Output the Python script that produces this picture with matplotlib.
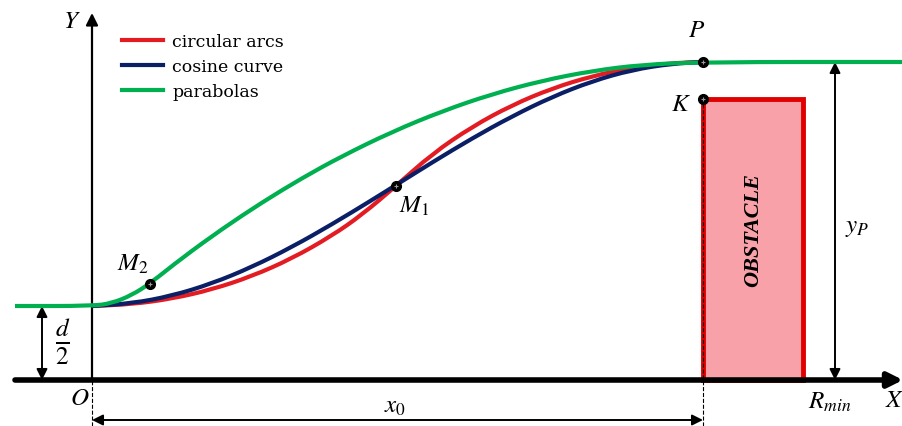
import numpy as np
import matplotlib.pyplot as plt
from matplotlib.path import Path
from matplotlib.patches import PathPatch
from matplotlib.lines import Line2D

plt.rcParams['font.family'] = ['Liberation Serif', 'DejaVu Serif']
plt.rcParams['mathtext.fontset'] = 'stix'

# diagram units (origin at O)
half_d = 74
x0 = 611
y_p = 318
k_height = 281
obstacle_w = 100
r_min = 743
m1 = (304, 194)
m2 = (58, 96)

arcs_x = [0, 40, 80, 120, 160, 200, 240, 270, 304, 340, 380, 420, 460, 500, 540, 580, 611]
arcs_y = [74, 75.8, 81.3, 90.5, 103.8, 121.5, 144.3, 165.3, 194, 226, 253.3, 274.9,
          291.6, 303.9, 312.3, 316.9, 318]

cosine_x = [0, 40, 80, 120, 160, 200, 240, 280, 304, 340, 380, 420, 460, 500, 540, 580, 611]
cosine_y = [74, 76.6, 84.2, 96.5, 113, 133, 155.7, 180, 195, 217.5, 241.6, 263.7,
            283.1, 298.8, 310.1, 316.4, 318]

parab_x = [-77, 0, 20, 40, 58, 90, 130, 170, 210, 250, 300, 350, 400, 450, 500, 550, 611, 811]
parab_y = [74, 74, 76.8, 85, 96.5, 122, 151, 177.6, 201.9, 223.9, 248.2, 268.8,
           285.9, 299.3, 309.1, 315.3, 318, 318]

RED = '#E31B23'
BLUE = '#0B1F66'
GREEN = '#00B050'


def smooth_path(xs, ys):
    pts = np.column_stack([xs, ys]).astype(float)
    verts = [pts[0], (pts[0] + pts[1]) / 2]
    codes = [Path.MOVETO, Path.LINETO]
    for i in range(1, len(pts) - 1):
        verts += [pts[i], (pts[i] + pts[i + 1]) / 2]
        codes += [Path.CURVE3, Path.CURVE3]
    verts.append(pts[-1])
    codes.append(Path.LINETO)
    return Path(verts, codes)


fig = plt.figure(figsize=(9.03, 4.27), dpi=100)
ax = fig.add_axes([0, 0, 1, 1])
ax.set_xlim(-92, 811)
ax.set_ylim(-46, 381)
ax.axis('off')

# obstacle
ax.bar(x0, k_height, width=obstacle_w, align='edge', color='#F8A1A8',
       edgecolor='#E00000', lw=3.5, zorder=2)
ax.text(x0 + obstacle_w / 2, 151, 'OBSTACLE', rotation=90, ha='center', va='center',
        fontsize=16, fontweight='bold', fontstyle='italic')

# dashed guides
ax.vlines([0], -46, 0, colors='k', linestyles='--', lw=0.8)
ax.vlines([x0], -46, k_height, colors='k', linestyles='--', lw=0.8, zorder=3)

# axes
ax.annotate('', xy=(811, 0), xytext=(-77, 0),
            arrowprops=dict(arrowstyle='-|>', lw=4, color='k', mutation_scale=22,
                            shrinkA=0, shrinkB=0), zorder=4)
ax.annotate('', xy=(0, 367), xytext=(0, 0),
            arrowprops=dict(arrowstyle='-|>', lw=1.6, color='k', mutation_scale=18,
                            shrinkA=0, shrinkB=0))

# dimension arrows
dim = dict(arrowstyle='<|-|>', lw=1.4, color='k', mutation_scale=16, shrinkA=0, shrinkB=0)
ax.annotate('', xy=(r_min, y_p), xytext=(r_min, 0), arrowprops=dim)
ax.annotate('', xy=(-50, half_d), xytext=(-50, 0), arrowprops=dim)
ax.annotate('', xy=(x0, -40), xytext=(0, -40), arrowprops=dim)

# curves
for xs, ys, c in [(arcs_x, arcs_y, RED), (cosine_x, cosine_y, BLUE), (parab_x, parab_y, GREEN)]:
    ax.add_patch(PathPatch(smooth_path(xs, ys), fill=False, edgecolor=c, lw=3,
                           capstyle='butt', joinstyle='round', zorder=5))

# points
pts_x = [m1[0], m2[0], x0, x0]
pts_y = [m1[1], m2[1], y_p, k_height]
ax.plot(pts_x, pts_y, 'o', ms=7, mfc='k', mec='k', zorder=6)
ax.plot(pts_x, pts_y, '+', ms=3, mec='#9a9a9a', mew=0.8, zorder=7)

# labels
lab = dict(fontsize=18, ha='center', va='center')
ax.text(-20, 359, '$Y$', **lab)
ax.text(803, -20, '$X$', **lab)
ax.text(-12, -18, '$O$', **lab)
ax.text(605, 350, '$P$', **lab)
ax.text(589, 276, '$K$', **lab)
ax.text(322, 175, '$M_1$', **lab)
ax.text(41, 117, '$M_2$', **lab)
ax.text(303, -26, '$x_0$', **lab)
ax.text(765, 153, '$y_P$', **lab)
ax.text(738, -21, '$R_{min}$', **lab)
ax.text(-29, 39, r'$\frac{d}{2}$', fontsize=26, ha='center', va='center')

handles = [Line2D([], [], color=RED, lw=3), Line2D([], [], color=BLUE, lw=3),
           Line2D([], [], color=GREEN, lw=3)]
ax.legend(handles, ['circular arcs', 'cosine curve', 'parabolas'],
          loc='upper left', bbox_to_anchor=(122 / 903, 1 - 34 / 427),
          frameon=False, prop={'family': 'DejaVu Serif', 'size': 12.5},
          handlelength=2.35, handletextpad=0.55, labelspacing=0.45,
          borderaxespad=0, borderpad=0)

fig.savefig('out.png', dpi=100)
